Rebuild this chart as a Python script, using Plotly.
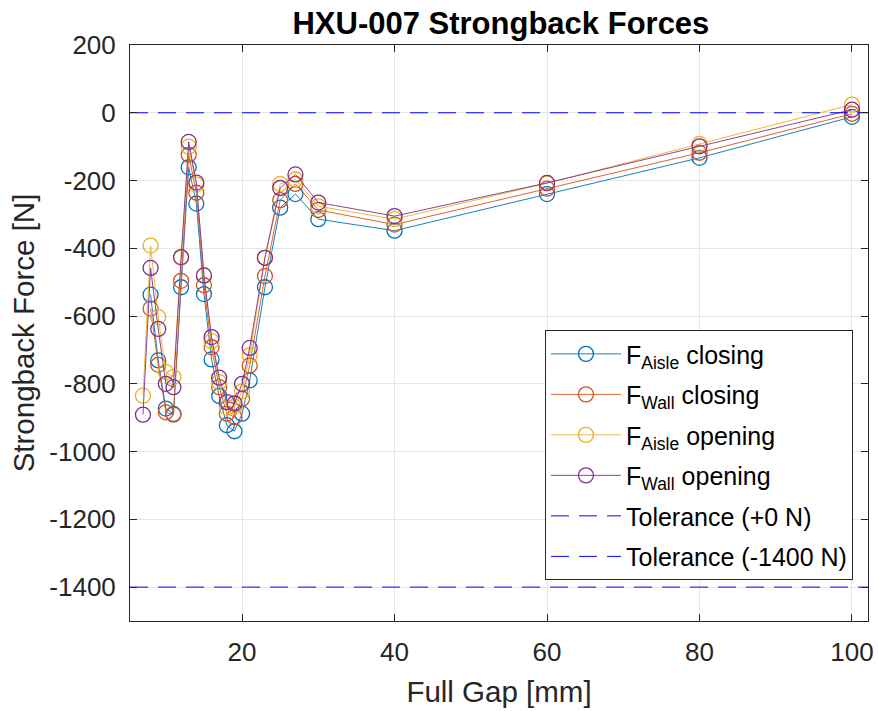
import plotly.graph_objects as go

# ---- data ----
gap_open = [7, 8, 9, 10, 11, 12, 13, 14, 15, 16, 17, 18, 19, 20, 21, 23, 25, 27, 30, 40, 60, 80, 100]
gap_close = [8, 9, 10, 11, 12, 13, 14, 15, 16, 17, 18, 19, 20, 21, 23, 25, 27, 30, 40, 60, 80, 100]

f_aisle_closing = [-537, -731, -873, -889, -515, -161, -268, -535, -728, -836, -922, -940, -888, -790,
                   -515, -280, -240, -314, -348, -240, -133, -12]
f_wall_closing = [-578, -744, -884, -891, -496, -124, -236, -509, -692, -810, -888, -898, -844, -746,
                  -482, -258, -210, -287, -330, -224, -118, -3]
f_aisle_opening = [-835, -392, -603, -765, -780, -428, -100, -212, -480, -674, -795, -870, -868, -822,
                   -716, -428, -210, -197, -276, -314, -208, -92, 24]
f_wall_opening = [-891, -458, -638, -800, -810, -426, -86, -206, -480, -662, -782, -854, -858, -800,
                  -694, -428, -222, -182, -265, -305, -207, -99, 9]

tolerance_values = [0, -1400]
tolerance_names = ["Tolerance (+0 N)", "Tolerance (-1400 N)"]

x_range = [5.3, 102.1]
y_range = [-1500, 200]
x_ticks = [20, 40, 60, 80, 100]
y_ticks = [200, 0, -200, -400, -600, -800, -1000, -1200, -1400]
y_ticklabels = ["200", "0", "-200", "-400", "-600", "-800", "-1000", "-1200", "-1400"]

colors = ["#0072BD", "#D95319", "#EDB120", "#7E2F8E"]

series = [
    (gap_close, f_aisle_closing, "F<sub>Aisle</sub> closing"),
    (gap_close, f_wall_closing, "F<sub>Wall</sub> closing"),
    (gap_open, f_aisle_opening, "F<sub>Aisle</sub> opening"),
    (gap_open, f_wall_opening, "F<sub>Wall</sub> opening"),
]

fig = go.Figure()
for i, ((xs, ys, name), c) in enumerate(zip(series, colors)):
    fig.add_trace(go.Scatter(
        x=xs, y=ys, name=name, mode="lines+markers", legendgroup=f"g{i}",
        line=dict(color=c, width=0.9),
        marker=dict(symbol="circle-open", size=15, color=c, line=dict(width=1.3, color=c)),
    ))

for j, (v, n) in enumerate(zip(tolerance_values, tolerance_names)):
    fig.add_trace(go.Scatter(
        x=x_range, y=[v, v], name=n, mode="lines", legendgroup=f"t{j}",
        line=dict(color="#0000FF", width=1, dash="18px,10px"),
    ))

font_family = "Liberation Sans, Arial, Helvetica, sans-serif"
fig.update_layout(
    width=878, height=711,
    margin=dict(l=130, r=10, t=45, b=90, autoexpand=False),
    paper_bgcolor="white", plot_bgcolor="white",
    font=dict(family=font_family, color="#262626", size=26),
    title=dict(text="<b>HXU-007 Strongback Forces</b>", x=0.5705, xanchor="center",
               y=1 - 23 / 711, yanchor="middle", font=dict(size=31, color="black")),
    showlegend=True,
    legend=dict(
        x=0.5623, y=0.505, xanchor="left", yanchor="top",
        bgcolor="white", bordercolor="#262626", borderwidth=1,
        font=dict(size=25, color="black", family=font_family),
        itemwidth=70, tracegroupgap=5,
    ),
)
fig.update_xaxes(
    range=x_range, tickvals=x_ticks, ticks="inside", ticklen=7, tickcolor="#262626",
    showline=True, linecolor="#262626", linewidth=1, mirror="ticks",
    showgrid=True, gridcolor="#e6e6e6", gridwidth=1, zeroline=False, automargin=False,
    tickfont=dict(size=26, color="#262626"), ticklabelstandoff=8,
    title=dict(text="Full Gap [mm]", font=dict(size=29.5, color="#262626"), standoff=15),
)
fig.update_yaxes(
    range=y_range, tickvals=y_ticks, ticktext=y_ticklabels, ticks="inside", ticklen=7,
    tickcolor="#262626",
    showline=True, linecolor="#262626", linewidth=1, mirror="ticks",
    showgrid=True, gridcolor="#e6e6e6", gridwidth=1, zeroline=False, automargin=False,
    tickfont=dict(size=26, color="#262626"), ticklabelstandoff=8,
    title=dict(text="Strongback Force [N]", font=dict(size=29.5, color="#262626"), standoff=5),
)

fig.write_html(
    "out.html",
    config={"displayModeBar": False},
    post_script="document.body.style.margin='0';document.body.style.overflow='hidden';",
)
